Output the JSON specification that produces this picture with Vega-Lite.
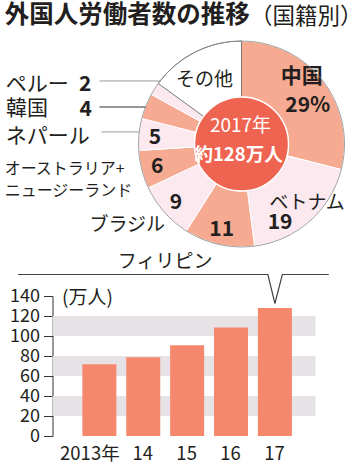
{
  "$schema": "https://vega.github.io/schema/vega-lite/v6.json",
  "background": "white",
  "padding": {"left": 4.5, "top": 3, "right": 0, "bottom": 0},
  "bounds": "flush",
  "spacing": 49,
  "title": {
    "text": "外国人労働者数の推移",
    "anchor": "start",
    "frame": "bounds",
    "font": "Noto Sans CJK JP",
    "fontSize": 24.5,
    "fontWeight": "bold",
    "color": "#231f20",
    "offset": -22.5
  },
  "datasets": {
    "slices": [
      {"id": "cn", "name": "中国", "share": 29, "num": "29%", "rank": 1},
      {"id": "vn", "name": "ベトナム", "share": 19, "num": "19", "rank": 2},
      {"id": "ph", "name": "フィリピン", "share": 11, "num": "11", "rank": 3},
      {"id": "br", "name": "ブラジル", "share": 9, "num": "9", "rank": 4},
      {"id": "au", "name": "オーストラリア+\nニュージーランド", "share": 6, "num": "6", "rank": 5},
      {"id": "np", "name": "ネパール", "share": 5, "num": "5", "rank": 6},
      {"id": "kr", "name": "韓国", "share": 4, "num": "4", "rank": 7},
      {"id": "pe", "name": "ペルー", "share": 2, "num": "2", "rank": 8},
      {"id": "ot", "name": "その他", "share": 15, "num": "", "rank": 9}
    ],
    "workers": [
      {"year": 2013, "workers": 71.8},
      {"year": 2014, "workers": 78.8},
      {"year": 2015, "workers": 90.8},
      {"year": 2016, "workers": 108.4},
      {"year": 2017, "workers": 127.9}
    ]
  },
  "vconcat": [
    {
      "width": 291,
      "height": 206,
      "title": {
        "text": "（国籍別）",
        "anchor": "end",
        "frame": "group",
        "dx": 19,
        "offset": 10.5,
        "font": "Noto Sans CJK JP",
        "fontSize": 22.5,
        "fontWeight": "normal",
        "color": "#231f20"
      },
      "encoding": {
        "x": {"datum": 0, "type": "quantitative", "scale": {"domain": [-1.835, 0.99], "nice": false, "zero": false}, "axis": null},
        "y": {"datum": 0, "type": "quantitative", "scale": {"domain": [-1, 1], "nice": false, "zero": false}, "axis": null}
      },
      "layer": [
        {
          "data": {"name": "slices"},
          "encoding": {
            "theta": {"field": "share", "type": "quantitative", "stack": true},
            "order": {"field": "rank", "type": "quantitative"}
          },
          "layer": [
            {
              "mark": {"type": "arc", "outerRadius": 103, "innerRadius": 47, "strokeWidth": 1},
              "encoding": {
                "color": {
                  "field": "id", "type": "nominal", "legend": null,
                  "scale": {
                    "domain": ["cn", "vn", "ph", "br", "au", "np", "kr", "pe", "ot"],
                    "range": ["#f5aa91", "#fce9ef", "#f5aa91", "#fce9ef", "#f5aa91", "#fce9ef", "#f5aa91", "#fce9ef", "#ffffff"]
                  }
                },
                "stroke": {"condition": {"test": "datum.id === 'ot'", "value": "#777777"}, "value": "#ffffff"}
              }
            },
            {
              "mark": {"type": "text", "radius": 75, "dx": 1, "dy": -21, "font": "Noto Sans CJK JP", "fontSize": 21, "fontWeight": "bold", "color": "#231f20", "baseline": "middle"},
              "encoding": {"text": {"condition": {"test": "datum.id === 'cn'", "field": "name"}, "value": ""}}
            },
            {
              "mark": {"type": "text", "radius": 75, "dx": 7, "dy": 8, "font": "Noto Sans CJK JP", "fontSize": 21, "fontWeight": "bold", "color": "#231f20", "baseline": "middle"},
              "encoding": {"text": {"condition": {"test": "datum.id === 'cn'", "field": "num"}, "value": ""}}
            },
            {
              "mark": {"type": "text", "radius": 75, "dx": 16, "dy": 3, "font": "Noto Sans CJK JP", "fontSize": 19, "color": "#231f20", "baseline": "middle"},
              "encoding": {"text": {"condition": {"test": "datum.id === 'vn'", "field": "name"}, "value": ""}}
            },
            {
              "mark": {"type": "text", "radius": 75, "dx": -11, "dy": 23, "font": "Noto Sans CJK JP", "fontSize": 21, "fontWeight": "bold", "color": "#231f20", "baseline": "middle"},
              "encoding": {"text": {"condition": {"test": "datum.id === 'vn'", "field": "num"}, "value": ""}}
            },
            {
              "mark": {"type": "text", "radius": 86, "dx": -1, "dy": 2, "font": "Noto Sans CJK JP", "fontSize": 21, "fontWeight": "bold", "color": "#231f20", "baseline": "middle"},
              "encoding": {"text": {"condition": {"test": "indexof(['ph','br','au','np'], datum.id) >= 0", "field": "num"}, "value": ""}}
            },
            {
              "mark": {"type": "text", "radius": 75, "dx": -60, "dy": 45, "font": "Noto Sans CJK JP", "fontSize": 19, "color": "#231f20", "baseline": "middle"},
              "encoding": {"text": {"condition": {"test": "datum.id === 'ph'", "field": "name"}, "value": ""}}
            },
            {
              "mark": {"type": "text", "radius": 75, "dx": -58, "dy": 31, "font": "Noto Sans CJK JP", "fontSize": 19, "color": "#231f20", "baseline": "middle"},
              "encoding": {"text": {"condition": {"test": "datum.id === 'br'", "field": "name"}, "value": ""}}
            },
            {
              "mark": {"type": "text", "radius": 75, "dx": -86, "dy": -6, "font": "Noto Sans CJK JP", "fontSize": 21, "fontWeight": "bold", "color": "#231f20", "baseline": "middle"},
              "encoding": {"text": {"condition": {"test": "datum.id === 'kr'", "field": "num"}, "value": ""}}
            },
            {
              "mark": {"type": "text", "radius": 75, "dx": -93, "dy": -19, "font": "Noto Sans CJK JP", "fontSize": 21, "fontWeight": "bold", "color": "#231f20", "baseline": "middle"},
              "encoding": {"text": {"condition": {"test": "datum.id === 'pe'", "field": "num"}, "value": ""}}
            },
            {
              "mark": {"type": "text", "radius": 75, "dx": -3, "dy": 3, "font": "Noto Sans CJK JP", "fontSize": 19, "color": "#231f20", "baseline": "middle"},
              "encoding": {"text": {"condition": {"test": "datum.id === 'ot'", "field": "name"}, "value": ""}}
            },
            {
              "transform": [
                {"stack": "share", "groupby": [], "sort": [{"field": "rank", "order": "ascending"}], "as": ["s0", "s1"]},
                {"filter": "datum.id === 'au'"}
              ],
              "mark": {"type": "text", "radius": 75, "dx": -169, "dy": -7, "align": "left", "lineBreak": "\n", "lineHeight": 22, "font": "Noto Sans CJK JP", "fontSize": 16, "color": "#231f20", "baseline": "middle"},
              "encoding": {
                "theta": {"field": "s0", "type": "quantitative", "stack": null},
                "text": {"field": "name"}
              }
            },
            {
              "transform": [
                {"stack": "share", "groupby": [], "sort": [{"field": "rank", "order": "ascending"}], "as": ["s0", "s1"]},
                {"filter": "datum.id === 'np'"}
              ],
              "mark": {"type": "text", "radius": 75, "dx": -161, "dy": -12, "align": "left", "font": "Noto Sans CJK JP", "fontSize": 21, "color": "#231f20", "baseline": "middle"},
              "encoding": {
                "theta": {"field": "s0", "type": "quantitative", "stack": null},
                "text": {"field": "name"}
              }
            },
            {
              "transform": [
                {"stack": "share", "groupby": [], "sort": [{"field": "rank", "order": "ascending"}], "as": ["s0", "s1"]},
                {"filter": "datum.id === 'kr'"}
              ],
              "mark": {"type": "text", "radius": 75, "dx": -163, "dy": -16, "align": "left", "font": "Noto Sans CJK JP", "fontSize": 21, "color": "#231f20", "baseline": "middle"},
              "encoding": {
                "theta": {"field": "s0", "type": "quantitative", "stack": null},
                "text": {"field": "name"}
              }
            },
            {
              "transform": [
                {"stack": "share", "groupby": [], "sort": [{"field": "rank", "order": "ascending"}], "as": ["s0", "s1"]},
                {"filter": "datum.id === 'pe'"}
              ],
              "mark": {"type": "text", "radius": 75, "dx": -170, "dy": -23, "align": "left", "font": "Noto Sans CJK JP", "fontSize": 21, "color": "#231f20", "baseline": "middle"},
              "encoding": {
                "theta": {"field": "s0", "type": "quantitative", "stack": null},
                "text": {"field": "name"}
              }
            }
          ]
        },
        {
          "data": {"values": [{}]},
          "mark": {"type": "arc", "theta": 0, "theta2": 6.2832, "outerRadius": 103, "innerRadius": 0, "fillOpacity": 0, "fill": "#ffffff", "stroke": "#8a8a8a", "strokeWidth": 0.8}
        },
        {
          "data": {"values": [{}]},
          "mark": {"type": "arc", "theta": 0, "theta2": 6.2832, "outerRadius": 47, "innerRadius": 0, "fill": "#ee6450", "stroke": "#ffffff", "strokeWidth": 1.5}
        },
        {
          "data": {"values": [{"year": "2017年", "total": "約128万人"}]},
          "layer": [
            {
              "mark": {"type": "text", "dx": -1, "dy": -18, "font": "Noto Sans CJK JP", "fontSize": 19, "color": "#ffffff", "baseline": "middle"},
              "encoding": {"text": {"field": "year"}}
            },
            {
              "mark": {"type": "text", "dx": -3, "dy": 11, "font": "Noto Sans CJK JP", "fontSize": 18.5, "fontWeight": "bold", "color": "#ffffff", "baseline": "middle"},
              "encoding": {"text": {"field": "total"}}
            }
          ]
        },
        {
          "data": {"values": [{}]},
          "mark": {"type": "rule", "color": "#999999", "strokeWidth": 1},
          "encoding": {
            "x": {"datum": -1.379, "type": "quantitative"},
            "x2": {"datum": -0.791},
            "y": {"datum": 0.612, "type": "quantitative"}
          }
        },
        {
          "data": {"values": [{}]},
          "mark": {"type": "rule", "color": "#333333", "strokeWidth": 1},
          "encoding": {
            "x": {"datum": -1.379, "type": "quantitative"},
            "x2": {"datum": -0.932},
            "y": {"datum": 0.359, "type": "quantitative"}
          }
        },
        {
          "data": {"values": [{}]},
          "mark": {"type": "rule", "color": "#999999", "strokeWidth": 1},
          "encoding": {
            "x": {"datum": -1.359, "type": "quantitative"},
            "x2": {"datum": -0.995},
            "y": {"datum": 0.117, "type": "quantitative"}
          }
        }
      ]
    },
    {
      "width": 263,
      "height": 140,
      "layer": [
        {
          "data": {"values": [{"lo": 20, "hi": 40}, {"lo": 60, "hi": 80}, {"lo": 100, "hi": 120}]},
          "mark": {"type": "rect", "color": "#e6e2e6"},
          "encoding": {
            "y": {
              "field": "lo", "type": "quantitative", "title": "(万人)",
              "scale": {"domain": [0, 140], "nice": false},
              "axis": {"values": [0, 20, 40, 60, 80, 100, 120, 140], "labelOverlap": false}
            },
            "y2": {"field": "hi"}
          }
        },
        {
          "data": {"name": "workers"},
          "mark": {"type": "bar", "width": 34, "color": "#f4876c"},
          "encoding": {
            "x": {
              "field": "year", "type": "quantitative", "title": null,
              "scale": {"domain": [2012.046, 2017.811], "nice": false, "zero": false},
              "axis": {
                "values": [2013, 2014, 2015, 2016, 2017],
                "labelExpr": "datum.value === 2013 ? '2013年' : slice(toString(datum.value), 2)",
                "ticks": false, "domain": false, "grid": false,
                "labelFont": "Noto Sans CJK JP", "labelFontSize": 18.5, "labelColor": "#231f20", "labelPadding": 8,
                "labelFlush": false, "labelOverlap": false,
                "labelOffset": {"condition": {"test": "datum.value === 2013", "value": -10}, "value": -1}
              }
            },
            "y": {
              "field": "workers", "type": "quantitative", "title": "(万人)",
              "scale": {"domain": [0, 140], "nice": false},
              "axis": {"values": [0, 20, 40, 60, 80, 100, 120, 140], "labelOverlap": false}
            }
          }
        },
        {
          "data": {"values": [
            {"yr": 2011.147, "v": 161.5},
            {"yr": 2016.84, "v": 161.5},
            {"yr": 2017.0, "v": 132.5},
            {"yr": 2017.169, "v": 161.5},
            {"yr": 2018.228, "v": 161.5}
          ]},
          "mark": {"type": "line", "color": "#444444", "strokeWidth": 1.2, "clip": false},
          "encoding": {
            "x": {"field": "yr", "type": "quantitative", "title": null, "scale": {"domain": [2012.046, 2017.811], "nice": false, "zero": false}},
            "y": {
              "field": "v", "type": "quantitative", "title": "(万人)",
              "scale": {"domain": [0, 140], "nice": false},
              "axis": {"values": [0, 20, 40, 60, 80, 100, 120, 140], "labelOverlap": false}
            }
          }
        }
      ]
    }
  ],
  "config": {
    "view": {"stroke": null},
    "font": "Noto Sans CJK JP",
    "axisY": {
      "grid": false, "tickSize": 9, "tickColor": "#333333", "domainColor": "#333333",
      "labelFont": "Noto Sans CJK JP", "labelFontSize": 18, "labelColor": "#231f20", "labelPadding": 4,
      "labelOverlap": false, "labelFlush": false,
      "titleAngle": 0, "titleAlign": "left", "titleBaseline": "middle", "titleX": 9, "titleY": 1,
      "titleFont": "Noto Sans CJK JP", "titleFontSize": 19, "titleFontWeight": "normal", "titleColor": "#231f20"
    }
  }
}
